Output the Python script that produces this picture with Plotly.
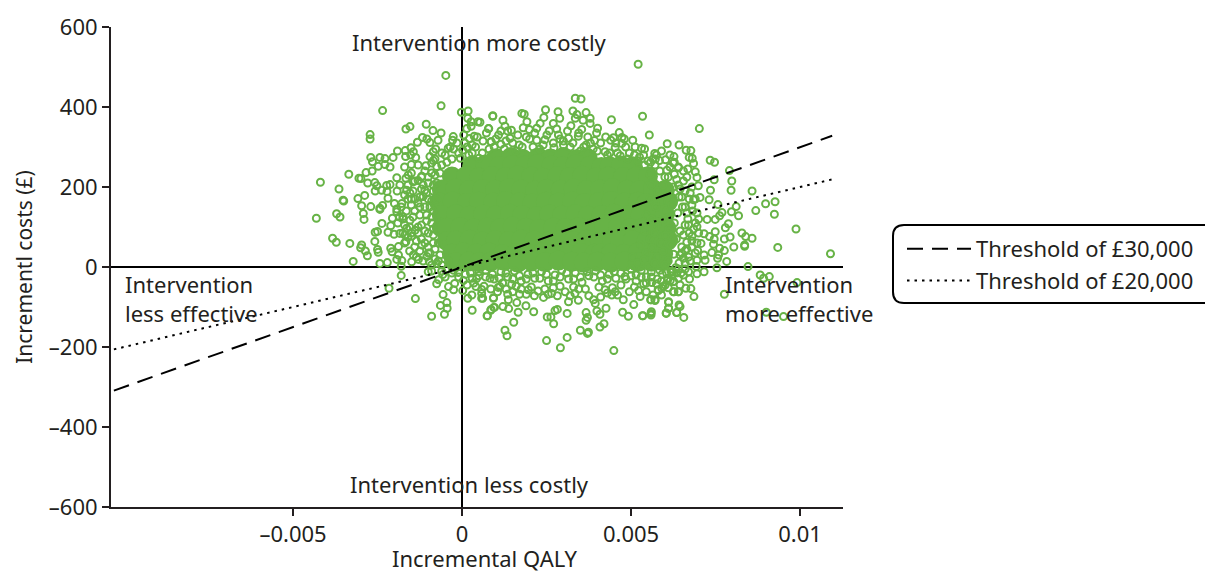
import plotly.graph_objects as go

# Outer scatter points: (incremental QALY x 1e5, incremental cost in GBP)
outer_points = [
(-48,479),(-62,403),(-235,391),(-2,387),(18,390),(17,372),(27,363),(47,363),(53,362),(91,378),(-106,357),(-166,345),(-154,351),(-86,341),(-62,335),(-272,331),(-272,320),(-26,326),(-28,317),(27,352),(14,346),(79,346),(36,327),(22,321),(-117,324),(-132,312),(-104,320),(-95,311),(-71,317),(8,310),(86,313),(-191,290),(-168,291),(-151,298),(-144,288),(-41,297),(2,292),(-78,295),(-85,288),(-270,274),(-243,274),(-228,271),(-204,274),(-167,276),(-152,280),(-137,274),(-95,276),(-265,263),(-248,252),(-228,256),(-213,250),(-150,256),(-107,253),(-85,266),(-335,232),(-266,240),(-284,236),(-159,230),(-119,227),(-193,223),(-166,222),(-419,212),(-305,222),(-299,221),(-279,210),(-258,211),(-364,195),(-223,204),(-213,206),(-252,203),(-184,205),(-145,213),(-130,216),(-257,190),(-238,192),(-222,189),(-192,190),(-164,192),(-352,167),(-308,171),(-288,179),(-219,172),(-297,153),(-270,151),(-235,154),(-200,159),(-178,159),(-139,170),(-154,185),(-243,147),(-193,145),(-115,176),(-110,192),(-90,235),(-75,251),
(-431,122),(-371,133),(-361,125),(-350,165),(-292,134),(-290,119),(-383,72),(-372,62),(-332,59),(-322,14),(-297,55),(-300,48),(-286,40),(-280,28),(-258,64),(-257,87),(-250,89),(-250,44),(-248,37),(-243,9),(-221,11),(-237,109),(-243,144),(-211,103),(-219,87),(-201,82),(-206,122),(-193,138),(-175,126),(-211,47),(-207,38),(-188,51),(-188,30),(-193,19),(-178,16),(-180,2),(-180,-21),(-216,-53),(-138,-79),(-90,-123),(-64,-96),(-52,-118),(-44,-103),(-45,-89),(-56,-69),(-75,-42),(-69,-32),(-40,-49),(-25,-57),(-22,-41),(-100,-12),(-90,-10),(-57,-19),(4,-34),(-11,-14),(2,-59),(17,-78),(30,-108),(75,-122),(85,-108),(96,-101),(93,-78),(43,-29),(41,-49),(58,-56),(29,-70),(58,-78),(83,-28),(107,-51),(-166,63),(-169,80),(-149,77),(-144,30),(-129,19),(-149,13),(-104,26),(-97,13),(-75,9),(-139,92),(-164,97),(-154,117),(-119,55),(-184,84),
(521,507),(335,422),(352,420),(91,377),(177,384),(184,382),(247,393),(284,388),(328,390),(289,372),(242,374),(121,367),(192,363),(270,359),(340,381),(367,386),(335,372),(358,367),(379,372),(442,368),(534,377),(127,352),(78,346),(115,340),(181,348),(146,342),(231,359),(221,347),(199,344),(280,345),(322,353),(379,359),(401,347),(354,344),(465,336),(554,330),(505,317),(448,323),(440,317),(473,324),(392,316),(344,327),(607,308),(642,305),(531,297),(473,309),(484,300),(453,299),(423,288),(367,305),(315,322),(251,330),(142,322),(86,313),(115,307),(169,305),(221,317),(300,305),
(449,-209),(291,-202),(250,-184),(311,-176),(133,-172),(127,-158),(153,-138),(74,-122),(86,-106),(94,-101),(121,-99),(138,-104),(166,-113),(189,-97),(212,-112),(252,-125),(263,-125),(271,-142),(275,-109),(282,-106),(311,-116),(350,-158),(371,-166),(374,-163),(408,-150),(420,-142),(367,-114),(371,-126),(367,-133),(408,-118),(426,-103),(399,-110),(475,-113),(492,-123),(534,-122),(560,-112),(559,-120),(604,-115),(611,-103),(611,-88),(635,-114),(642,-95),(558,-82),(571,-82),(508,-94),(477,-82),(93,-77),(137,-82),(162,-89),(135,-68),(170,-68),(214,-72),(241,-76),(282,-72),(315,-87),(344,-83),(394,-91),(443,-70),(453,-62),(423,-57),(389,-82),(527,-74),(522,-59),(581,-59),(591,-53),(627,-62),(640,-62),(537,-42),(561,-39),(601,-45),(58,-66),(61,-78),(112,-49),(147,-43),(196,-57),(265,-66),(334,-66),(482,-24),(623,-12),(616,-34),(625,-37),
(702,346),(570,284),(627,276),(663,292),(677,291),(537,280),(672,274),(681,272),(734,267),(747,262),(584,266),(685,259),(791,241),(640,248),(571,255),(690,238),(746,218),(798,215),(695,224),(635,219),(606,242),(699,203),(735,192),(796,192),(858,190),(731,168),(704,174),(685,168),(757,156),(926,163),(898,158),(811,151),(797,138),(818,128),(869,141),(924,132),(769,136),(762,128),(749,119),(725,119),(788,108),(779,98),(988,95),(695,101),(828,85),(858,72),(839,76),(749,88),(716,83),(732,76),(793,75),(776,70),(746,70),(680,77),(707,59),(744,57),(804,50),(836,52),(836,55),(934,49),(1090,33),(762,47),(697,41),(776,41),(739,36),(716,30),(759,30),(756,22),(783,14),(719,17),(695,17),(660,41),(645,30),(846,1),(754,-2),(716,-12),(693,1),(670,-12),(695,-17),(673,-30),(622,-13),(626,-36),(608,-33),(882,-20),(909,-24),(892,-28),(991,-39),(776,-68),(662,-53),(677,-54),(625,-62),(640,-62),(686,-74),(900,-113),(951,-124),(611,-87),(645,-99),(611,-103),(604,-116),(635,-114),(656,-126),(559,-82),(571,-84),(559,-116),(535,-122),(580,-57),(595,-49),
]

# Rings along the edges of the dense cloud
edge_points = [
(540,255),(556,232),(572,270),(585,240),(600,225),(615,250),(628,232),(640,205),(655,215),(668,245),(560,205),(578,190),(595,205),(610,180),(625,200),(642,175),(660,190),(672,170),(556,170),(574,150),(590,165),(605,140),(620,155),(638,135),(652,150),(668,120),(682,140),(545,130),(560,120),(578,105),(595,120),(612,95),(628,110),(645,90),(660,105),(672,85),(690,110),(540,90),(555,70),(570,85),(588,60),(602,78),(618,55),(634,70),(650,50),(665,62),(680,50),(528,55),(545,35),(562,48),(578,25),(595,40),(610,15),(626,32),(642,10),(655,22),(670,25),(505,25),(520,10),(538,18),(552,2),(570,10),(585,-8),(600,5),(618,-10),(632,-2),(648,-15),(660,-5),(500,-5),(515,-20),(530,-8),(545,-25),(560,-12),(578,-30),(592,-18),(608,-28),(640,-28),
(25,-15),(50,-22),(70,-8),(95,-30),(115,-12),(135,-25),(155,-10),(175,-35),(195,-18),(215,-28),(235,-12),(255,-35),(275,-20),(295,-8),(315,-30),(335,-15),(355,-38),(375,-22),(395,-10),(415,-35),(435,-18),(455,-28),(470,-45),(120,-40),(160,-48),(205,-50),(245,-55),(290,-48),(330,-50),(365,-55),(405,-50),(445,-52),
(-100,225),(-85,205),(-120,195),(-100,170),(-125,150),(-105,130),(-90,110),(-120,105),(-100,85),(-130,85),(-85,60),(-110,60),(-125,40),(-95,35),(-80,20),(-115,205),(-140,140),(-150,155),(-160,170),(-175,120),(-190,110),(-155,100),(-170,60),(-135,65),(-60,5),(-45,-5),(-25,-8),(-40,15),(-65,30),
(-50,280),(-30,270),(-10,285),(20,280),(40,300),(60,285),(80,295),(100,320),(130,315),(160,290),(190,325),(210,300),(240,305),(270,310),(290,320),(320,300),(350,290),(380,310),(400,290),(430,280),(460,285),(490,270),(510,280),(520,265),(550,265),(565,270),
(-35,300),(-15,310),(5,330),(30,305),(45,325),(62,315),(72,335),(95,300),(108,330),(125,295),(135,340),(150,310),(165,330),(178,300),(200,320),(215,335),(230,295),(245,318),(258,340),(272,298),(285,330),(300,315),(312,340),(328,310),(345,335),(360,300),(372,325),(388,295),(398,335),(410,310),(425,325),(437,285),(455,310),(468,278),(480,320),(495,285),(512,300),(525,275),(540,295),(558,262),(575,280),(590,290),(602,268),(615,280),(628,262),(-80,270),(-60,285),(-45,262),(-25,295),(-5,272),(15,300),(30,285),(50,272),
(-170,250),(-150,235),(-130,255),(-110,240),(-90,260),(-140,215),(-120,225),(-100,210),(-80,230),(-60,255),(-160,205),(-145,190),(-125,175),(-105,185),(-85,190),(-170,180),(-150,170),(-130,160),(-110,150),(-90,165),(-180,150),(-165,140),(-145,125),(-125,130),(-105,115),(-85,140),(-185,125),(-170,105),(-150,85),(-130,100),(-110,90),(-90,125),(-175,85),(-160,75),(-140,50),(-120,70),(-100,50),(-85,80),(-155,40),(-135,25),(-115,15),(-100,35),(-80,45),(-70,60),(-70,15),(-90,5),(-60,-10),(-85,95),(-75,170),(-75,210),(-65,235),(-95,150),
(640,250),(625,260),(655,240),(610,225),(665,225),(645,195),(680,200),(650,175),(675,185),(660,150),(690,170),(680,155),(695,135),(665,135),(700,120),(670,105),(685,95),(700,85),(655,80),(680,65),(695,60),(665,45),(650,35),(690,35),(675,15),(660,10),(640,-5),(655,-20),(635,-15),(620,-22),(605,-15),(590,-35),(575,-42),(560,-25),(545,-40),(530,-25),(515,-35),(500,-22),(485,-30),(470,-15),(450,-12),(430,-30),(410,-20),(390,-25),(370,-12),(350,-25),(330,-30),(310,-15),(290,-25),(270,-35),(250,-18),(230,-28),(210,-15),(190,-30),(170,-22),(150,-30),(130,-15),(110,-28),(90,-18),(70,-25),(50,-12),(30,-28),(10,-18),(-10,-25),(-30,-15),(-50,-25),
(15,-45),(35,-40),(65,-48),(85,-55),(105,-62),(130,-55),(150,-62),(175,-55),(190,-68),(225,-60),(255,-68),(270,-52),(305,-62),(320,-72),(345,-55),(375,-72),(410,-75),(430,-65),(460,-70),(495,-62),(510,-50),(545,-62),(565,-70),(590,-70),(610,-52),(645,-45),
]

# The solid centre of the cloud, where individual points merge
core_points = [
(100,272),(145,275),(180,270),(225,274),(262,271),(300,275),(340,270),(372,272),
(30,254),(68,256),(110,252),(148,255),(186,253),(222,257),(265,254),(298,251),(336,256),(378,253),(412,250),(436,252),(470,254),(505,252),
(-30,226),(12,228),(50,224),(88,227),(128,225),(164,229),(205,226),(240,223),(282,227),(318,225),(356,228),(396,224),(432,226),(476,225),(515,226),(550,227),
(-60,194),(-20,196),(20,192),(60,195),(98,193),(138,197),(175,194),(216,191),(250,195),(292,193),(330,196),(368,192),(408,194),(445,197),(488,193),(525,192),(565,195),(600,192),
(-68,162),(-28,164),(14,160),(50,163),(92,161),(130,165),(170,162),(208,159),(248,163),(285,161),(326,164),(362,160),(404,162),(442,165),(480,161),(520,163),(545,160),(585,161),(610,164),
(-60,130),(-18,132),(22,128),(62,131),(100,129),(142,133),(178,130),(220,127),(258,131),(296,129),(336,132),(372,128),(412,130),(450,133),(490,129),(528,130),(565,130),(600,132),
(-60,98),(-45,98),(-5,100),(34,96),(75,99),(112,97),(150,101),(190,98),(228,95),(270,99),(306,97),(345,100),(384,96),(420,98),(462,101),(497,97),(535,98),(575,100),(605,97),
(-45,65),(-18,66),(22,68),(60,64),(98,67),(138,65),(175,69),(214,66),(254,63),(290,67),(330,65),(368,68),(408,64),(445,66),(468,67),(505,67),(545,64),(585,66),(610,68),
(-30,33),(5,36),(42,34),(80,36),(120,32),(160,35),(198,33),(238,37),(276,34),(315,31),(352,35),(392,33),(410,34),(440,34),(480,33),(520,36),(560,34),(595,33),
(-20,12),(20,14),(50,12),(85,13),(125,15),(165,11),(205,14),(245,12),(285,16),(325,13),(360,11),(400,13),(440,11),(480,14),(520,12),(560,13),(590,15),
]

threshold_qaly = [-0.0103, 0.01095]
cost_30000 = [-309, 328]
cost_20000 = [-206, 219]

x_tick_values = [-0.005, 0, 0.005, 0.01]
x_tick_labels = ["\u20130.005", "0", "0.005", "0.01"]
y_tick_values = [-600, -400, -200, 0, 200, 400, 600]
y_tick_labels = ["\u2013600", "\u2013400", "\u2013200", "0", "200", "400", "600"]

GREEN = "#67b346"
FONT = "Noto Sans"
TEXT = "#231f20"

ring_pts = outer_points + edge_points
fig = go.Figure()
fig.add_trace(go.Scatter(x=[p[0] * 1e-5 for p in core_points], y=[p[1] for p in core_points],
                         mode="markers", showlegend=False, hoverinfo="skip",
                         marker=dict(symbol="circle", size=20, color=GREEN, line=dict(width=0))))
fig.add_trace(go.Scatter(x=[p[0] * 1e-5 for p in ring_pts], y=[p[1] for p in ring_pts],
                         mode="markers", showlegend=False,
                         marker=dict(symbol="circle-open", size=7, color=GREEN, line=dict(width=2, color=GREEN))))
fig.add_trace(go.Scatter(x=threshold_qaly, y=cost_30000, mode="lines", name="Threshold of £30,000",
                         line=dict(color="black", width=2, dash="16px,9px")))
fig.add_trace(go.Scatter(x=threshold_qaly, y=cost_20000, mode="lines", name="Threshold of £20,000",
                         line=dict(color="black", width=2, dash="2.5px,5px")))

W, H = 1205, 572
L, R, T, B = 111, 362, 27, 65
PW, PH = W - L - R, H - T - B
px = lambda v: (v - L) / PW
py = lambda v: 1 - (v - T) / PH


def note(x, y, text, anchor="left", size=22):
    return dict(x=x, y=y, xref="paper", yref="paper", text=text, showarrow=False, xanchor=anchor,
                yanchor="middle", align=anchor, font=dict(family=FONT, size=size, color=TEXT))


box_path = "M {a} {t} L {b} {t} Q {c} {t} {c} {d} L {c} {e} Q {c} {f} {b} {f} L {a} {f}".format(
    a=px(1207), b=px(904), c=px(893), t=py(225), d=py(236), e=py(292), f=py(303))

axis_style = dict(showgrid=False, zeroline=True, zerolinecolor="black", zerolinewidth=2,
                  showline=True, linecolor=TEXT, linewidth=2, ticks="outside", ticklen=7, tickwidth=2,
                  tickcolor=TEXT, tickfont=dict(size=22, family=FONT, color=TEXT))

fig.update_layout(
    width=W, height=H, margin=dict(l=L, r=R, t=T, b=B, autoexpand=False),
    paper_bgcolor="white", plot_bgcolor="white",
    font=dict(family=FONT, size=22, color=TEXT),
    xaxis=dict(range=[-0.010385, 0.01127], tickmode="array", tickvals=x_tick_values, ticktext=x_tick_labels, **axis_style),
    yaxis=dict(range=[-600, 600], tickmode="array", tickvals=y_tick_values, ticktext=y_tick_labels,
               title=dict(text="Incrementl costs (£)", standoff=10, font=dict(size=21, family=FONT, color=TEXT)),
               **axis_style),
    legend=dict(x=px(902), y=py(228), xanchor="left", yanchor="top", bgcolor="rgba(0,0,0,0)",
                borderwidth=0, itemwidth=64, font=dict(size=22, family=FONT, color=TEXT), tracegroupgap=0),
    shapes=[dict(type="path", xref="paper", yref="paper", line=dict(color="black", width=2), path=box_path)],
    annotations=[
        note(px(350), py(42), "Intervention more costly"),
        note(px(348), py(484), "Intervention less costly"),
        note(px(123), py(298), "Intervention<br>less effective"),
        note(px(723), py(298), "Intervention<br>more effective"),
        note(px(485), py(558), "Incremental QALY", "center", 22),
    ],
)
fig.write_html("out.html", config={"displayModeBar": False}, post_script="document.body.style.margin='0';")
